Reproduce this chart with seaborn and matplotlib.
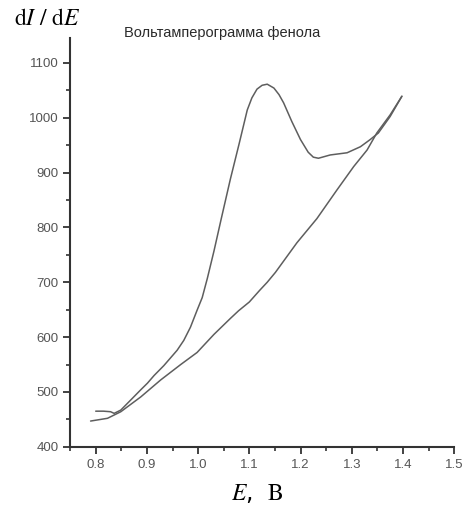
import numpy as np
import pandas as pd
import matplotlib
matplotlib.use("Agg")
import matplotlib.pyplot as plt
import seaborn as sns
from matplotlib.ticker import MultipleLocator


TITLE = "Вольтамперограмма фенола"

# anodic (forward) scan: E, dI/dE
E_fwd = [0.800, 0.815, 0.829, 0.836, 0.849, 0.868, 0.888, 0.901, 0.914, 0.933,
         0.959, 0.972, 0.985, 0.998, 1.008, 1.018, 1.031, 1.045, 1.063, 1.080,
         1.096, 1.105, 1.115, 1.125, 1.135, 1.148, 1.158, 1.167, 1.183, 1.200,
         1.215, 1.225, 1.235, 1.258, 1.291, 1.317, 1.336, 1.352, 1.375, 1.398]
I_fwd = [465, 465, 464, 461, 467, 485, 504, 516, 530, 548,
         576, 594, 618, 649, 672, 707, 757, 815, 888, 952,
         1014, 1036, 1052, 1059, 1061, 1054, 1042, 1027, 993, 960,
         937, 928, 926, 932, 936, 947, 960, 972, 1002, 1039]

# reverse scan
E_rev = [1.398, 1.375, 1.349, 1.330, 1.304, 1.271, 1.232, 1.193, 1.151, 1.135,
         1.120, 1.100, 1.079, 1.063, 1.031, 0.998, 0.966, 0.927, 0.888, 0.849,
         0.823, 0.790]
I_rev = [1039, 1005, 972, 941, 911, 868, 816, 772, 718, 700,
         685, 664, 648, 634, 605, 572, 550, 522, 491, 464,
         452, 447]

sns.set_style("ticks")
plt.rcParams["mathtext.fontset"] = "stix"

fig = plt.figure(figsize=(4.77, 5.22), dpi=100)
ax = fig.add_axes([0.147, 0.144, 0.805, 0.783])

line_color = "#5e5e5e"
sns.lineplot(x=E_fwd, y=I_fwd, sort=False, color=line_color, lw=1.1, ax=ax)
sns.lineplot(x=E_rev, y=I_rev, sort=False, color=line_color, lw=1.1, ax=ax)

ax.set_xlim(0.75, 1.5)
ax.set_ylim(400, 1145)
ax.xaxis.set_minor_locator(MultipleLocator(0.05))
ax.yaxis.set_major_locator(MultipleLocator(100))
ax.yaxis.set_minor_locator(MultipleLocator(50))
xt = np.arange(0.8, 1.51, 0.1)
ax.set_xticks(xt)
ax.set_xticklabels([f"{v:.1f}" for v in xt])

sns.despine(ax=ax)
for s in ["left", "bottom"]:
    ax.spines[s].set_linewidth(1.5)
    ax.spines[s].set_color("#333333")
ax.tick_params(which="major", direction="out", length=5, width=1.3,
               colors="#333333", labelsize=9.5, labelcolor="#555555")
ax.tick_params(which="minor", direction="out", length=3, width=1.2,
               colors="#333333")
for lab in ax.get_xticklabels() + ax.get_yticklabels():
    lab.set_family("Liberation Sans")

ax.set_xlabel("")
ax.set_ylabel("")

fig.text(0.465, 0.937, TITLE, ha="center", va="center", fontsize=10.5,
         family="Liberation Sans", color="#2a2a2a")
fig.text(0.03, 0.966, r"$\mathrm{d}I\ /\ \mathrm{d}E$", ha="left", va="center",
         fontsize=17, color="black")
fig.text(0.54, 0.055, r"$E$,  $\mathrm{B}$", ha="center", va="center",
         fontsize=17, color="black")

fig.savefig("out.png", dpi=100)
